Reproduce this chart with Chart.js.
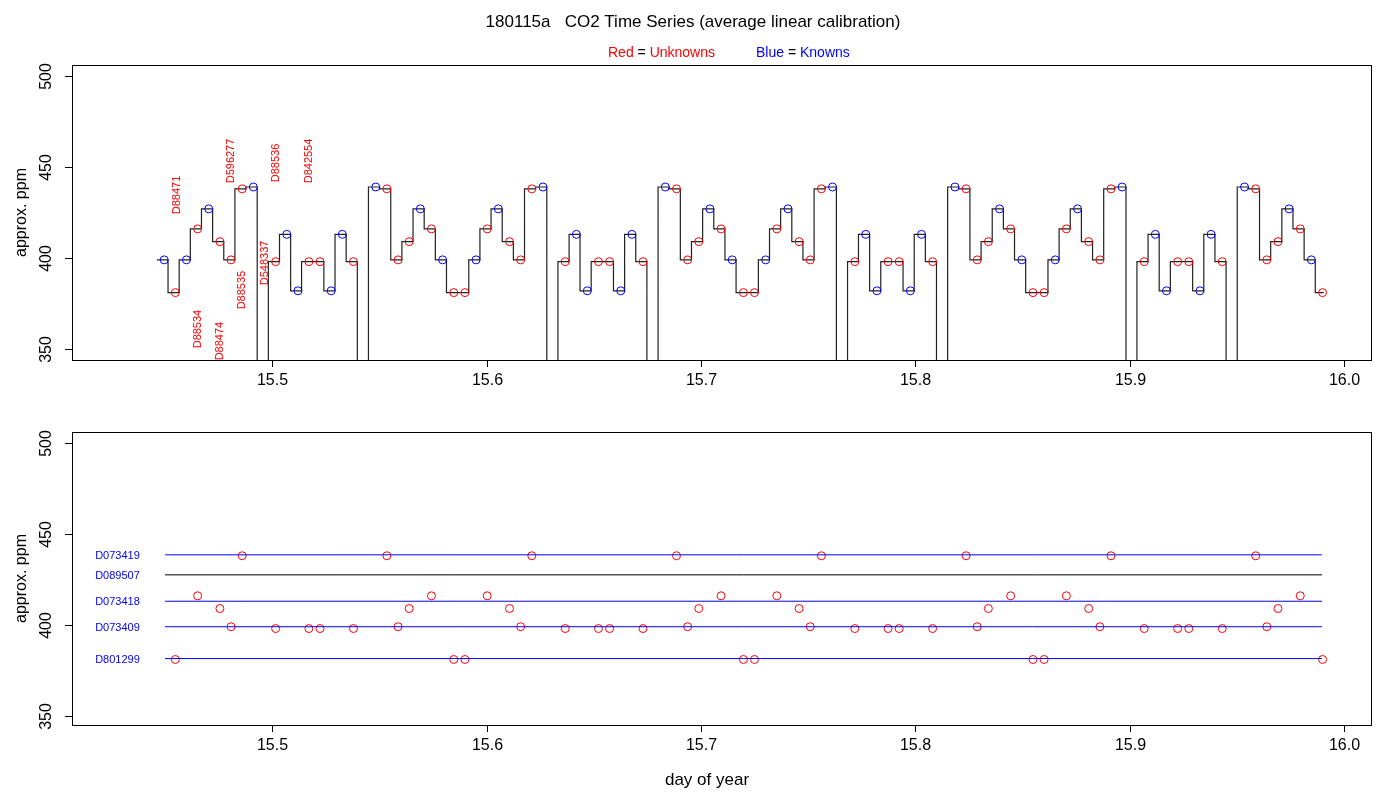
<!DOCTYPE html>
<html><head><meta charset="utf-8">
<script src="https://cdn.jsdelivr.net/npm/chart.js@4/dist/chart.umd.min.js"></script>
<style>body{margin:0;background:#fff}canvas{position:absolute;left:0}</style>
</head><body>
<canvas id="c1" width="1400" height="400" style="top:0"></canvas>
<canvas id="c2" width="1400" height="400" style="top:400px"></canvas>
<script>
const times=[15.4496,15.4548,15.4600,15.4652,15.4704,15.4756,15.4808,15.4860,15.4912,15.4964,
15.5016,15.5068,15.5120,15.5171,15.5223,15.5275,15.5327,15.5379,15.5431,15.5483,
15.5535,15.5587,15.5639,15.5691,15.5743,15.5795,15.5847,15.5899,15.5951,15.6003,
15.6055,15.6107,15.6159,15.6211,15.6263,15.6315,15.6367,15.6419,15.6470,15.6522,
15.6574,15.6626,15.6678,15.6730,15.6782,15.6834,15.6886,15.6938,15.6990,15.7042,
15.7094,15.7146,15.7198,15.7250,15.7302,15.7354,15.7406,15.7458,15.7510,15.7562,
15.7614,15.7666,15.7718,15.7769,15.7821,15.7873,15.7925,15.7977,15.8029,15.8081,
15.8133,15.8185,15.8237,15.8289,15.8341,15.8393,15.8445,15.8497,15.8549,15.8601,
15.8653,15.8705,15.8757,15.8809,15.8861,15.8913,15.8965,15.9017,15.9068,15.9120,
15.9172,15.9224,15.9276,15.9328,15.9380,15.9432,15.9484,15.9536,15.9588,15.9640,
15.9692,15.9744,15.9796,15.9848,15.9900];
const ppm=[399,381,399,416,427,409,399,438,439,250,
398,413,382,398,398,382,413,398,250,
439,438,399,409,427,416,399,381,381,399,416,427,409,399,438,439,250,
398,413,382,398,398,382,413,398,250,
439,438,399,409,427,416,399,381,381,399,416,427,409,399,438,439,250,
398,413,382,398,398,382,413,398,250,
439,438,399,409,427,416,399,381,381,399,416,427,409,399,438,439,250,
398,413,382,398,398,382,413,398,250,
439,438,399,409,427,416,399,381];
const kind=["B","R","B","R","B","R","R","R","B","D",
"R","B","B","R","R","B","B","R","D",
"B","R","R","R","B","R","B","R","R","B","R","B","R","R","R","B","D",
"R","B","B","R","R","B","B","R","D",
"B","R","R","R","B","R","B","R","R","B","R","B","R","R","R","B","D",
"R","B","B","R","R","B","B","R","D",
"B","R","R","R","B","R","B","R","R","B","R","B","R","R","R","B","D",
"R","B","B","R","R","B","B","R","D",
"B","R","R","R","B","R","B","R"];
const tankNames=["D073419","D089507","D073418","D073409","D801299"];
const tankPpm=[438.5,427.5,413,399,381.5];
const tankColors=["#0000ff","#000000","#0000ff","#0000ff","#0000ff"];
const tankStart=15.4500, tankEnd=15.9897, tankLabelX=15.4174;
const labels=["D88471","D88534","D88474","D88535","D596277","D548337","D88536","D842554"];
const labelX=[15.4557,15.4655,15.4757,15.4860,15.4809,15.4967,15.5019,15.5173];
const labelY=[434.6,361,354.4,382.4,453.3,397.3,452.2,453.3];
const xTicks=[15.5,15.6,15.7,15.8,15.9,16.0];
const yTicks=[350,400,450,500];

const FONT='"Liberation Sans", Arial, sans-serif';
function axesPlugin(opts){return {id:'ax',afterDraw(ch){
  const c=ch.ctx,a=ch.chartArea,xs=ch.scales.x,ys=ch.scales.y;
  c.save();c.strokeStyle='#000';c.lineWidth=1;
  c.strokeRect(a.left+0.5,a.top+0.5,a.right-a.left,a.bottom-a.top);
  c.fillStyle='#000';c.font='16px '+FONT;c.textAlign='center';c.textBaseline='middle';
  xTicks.forEach(v=>{const x=Math.round(xs.getPixelForValue(v))+0.5;c.beginPath();c.moveTo(x,a.bottom);c.lineTo(x,a.bottom+7);c.stroke();c.fillText(v.toFixed(1),x,a.bottom+21);});
  yTicks.forEach(v=>{const y=Math.round(ys.getPixelForValue(v))+0.5;c.beginPath();c.moveTo(a.left,y);c.lineTo(a.left-7,y);c.stroke();
    c.save();c.translate(a.left-25,y);c.rotate(-Math.PI/2);c.fillText(String(v),0,0);c.restore();});
  c.save();c.translate(22,(a.top+a.bottom)/2);c.rotate(-Math.PI/2);c.font='16px '+FONT;c.fillText('approx. ppm',0,0);c.restore();
  if(opts.draw)opts.draw(ch,c,a,xs,ys);
  c.restore();}};}

const xScale={type:'linear',min:15.4066,max:16.0126,display:false};
// top chart: each reading holds its plateau from ~0.65 step before to ~0.35 step after the sample
const trace=times.map((t,i)=>({x:t-0.0034,y:ppm[i]})).concat([{x:times[times.length-1]+0.0006,y:ppm[ppm.length-1]}]);
new Chart(document.getElementById('c1'),{type:'scatter',
 data:{datasets:[
  {type:'line',data:trace,stepped:'before',borderColor:'#222',borderWidth:1.2,pointRadius:0,order:2},
  {data:times.map((t,i)=>({x:t,y:ppm[i]})).filter((p,i)=>kind[i]!=='D'),
   pointRadius:4,pointBorderWidth:1,backgroundColor:'rgba(0,0,0,0)',
   pointBorderColor:times.map((t,i)=>kind[i]).filter(k=>k!=='D').map(k=>k==='R'?'#ff0000':'#0000ff'),order:1}
 ]},
 options:{responsive:false,animation:false,events:[],layout:{padding:{left:72,right:29,top:65,bottom:40}},
  plugins:{legend:{display:false},tooltip:{enabled:false}},
  scales:{x:xScale,y:{type:'linear',min:344,max:506,display:false}}},
 plugins:[axesPlugin({draw(ch,c,a,xs,ys){
   c.font='17px '+FONT;c.fillStyle='#000';c.textAlign='center';
   c.fillText('180115a   CO2 Time Series (average linear calibration)',693,22);
   c.font='14px '+FONT;c.textAlign='left';
   const parts=[['Red','#f00'],[' = ','#000'],['Unknowns','#f00']];
   let x=608;parts.forEach(p=>{c.fillStyle=p[1];c.fillText(p[0],x,53);x+=c.measureText(p[0]).width;});
   const parts2=[['Blue','#00f'],[' = ','#000'],['Knowns','#00f']];
   x=756;parts2.forEach(p=>{c.fillStyle=p[1];c.fillText(p[0],x,53);x+=c.measureText(p[0]).width;});
   c.fillStyle='#f00';c.font='11px '+FONT;c.textAlign='center';
   labels.forEach((l,i)=>{c.save();c.translate(xs.getPixelForValue(labelX[i]),ys.getPixelForValue(labelY[i]));c.rotate(-Math.PI/2);c.fillText(l,0,0);c.restore();});
 }})]});

// bottom chart
const redPts=times.map((t,i)=>({x:t,y:ppm[i]})).filter((p,i)=>kind[i]==='R');
new Chart(document.getElementById('c2'),{type:'scatter',
 data:{datasets:tankPpm.map((v,i)=>({type:'line',data:[{x:tankStart,y:v},{x:tankEnd,y:v}],borderColor:tankColors[i],borderWidth:1,pointRadius:0}))
  .concat([{data:redPts,pointRadius:4,pointBorderWidth:1,backgroundColor:'rgba(0,0,0,0)',pointBorderColor:'#ff0000'}])},
 options:{responsive:false,animation:false,events:[],layout:{padding:{left:72,right:29,top:32,bottom:75}},
  plugins:{legend:{display:false},tooltip:{enabled:false}},
  scales:{x:xScale,y:{type:'linear',min:345,max:506,display:false}}},
 plugins:[axesPlugin({draw(ch,c,a,xs,ys){
   c.font='11px '+FONT;c.fillStyle='#00f';c.textAlign='left';
   tankNames.forEach((n,i)=>c.fillText(n,xs.getPixelForValue(tankLabelX),ys.getPixelForValue(tankPpm[i])+1));
   c.font='17px '+FONT;c.fillStyle='#000';c.textAlign='center';
   c.fillText('day of year',707,380);
 }})]});
</script></body></html>
